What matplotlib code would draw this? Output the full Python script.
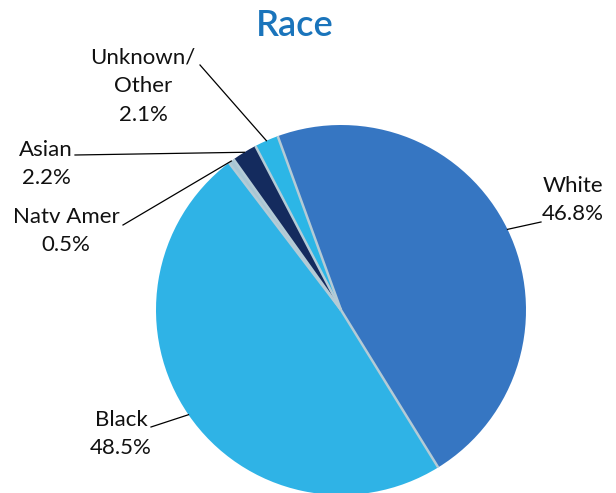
import numpy as np
import matplotlib
matplotlib.use("Agg")
import matplotlib.pyplot as plt

labels = ["White", "Black", "Natv Amer", "Asian", "Unknown/\nOther"]
shares = [46.8, 48.5, 0.5, 2.2, 2.1]
colors = ["#3676c2", "#2fb3e6", "#a8c6d4", "#142b5e", "#2cb6e6"]

# label block centres and leader line ends, in pixels (y down)
text_pos = [(573, 200), (121, 434), (66, 231), (46, 164), (143, 86)]
line_end = [(541, 222), (151, 427), (123, 225), (75, 155), (200, 65)]

W, H = 616, 493
plt.rcParams['font.family'] = ['Lato', 'DejaVu Sans']

fig = plt.figure(figsize=(W / 100, H / 100), dpi=100)
ax = fig.add_axes([0, 0, 1, 1])

cx, cy, r = 341, H - 310, 185
wedges, _ = ax.pie(shares, colors=colors, startangle=110, counterclock=False,
                   center=(cx, cy), radius=r,
                   wedgeprops=dict(edgecolor="none", linewidth=0))

# light separators between slices
for w in wedges:
    a = np.deg2rad(w.theta1)
    ax.plot([cx, cx + r * np.cos(a)], [cy, cy + r * np.sin(a)],
            color="#b4cbd6", lw=1.8, solid_capstyle="butt")

for w, lab, val, tp, le in zip(wedges, labels, shares, text_pos, line_end):
    mid = np.deg2rad((w.theta1 + w.theta2) / 2)
    px, py = cx + r * np.cos(mid), cy + r * np.sin(mid)
    ax.plot([px, le[0]], [py, H - le[1]], color="black", lw=0.9)
    ax.text(tp[0], H - tp[1], f"{lab}\n{val:.1f}%", ha="center", va="center",
            fontsize=16, linespacing=1.55, color="#111111")

ax.text(295, H - 25, "Race", ha="center", va="center",
        fontsize=26, fontweight="semibold", color="#1a74bb")

ax.set_xlim(0, W)
ax.set_ylim(0, H)
ax.set_aspect("equal")
ax.axis("off")

fig.savefig("out.png", dpi=100)
